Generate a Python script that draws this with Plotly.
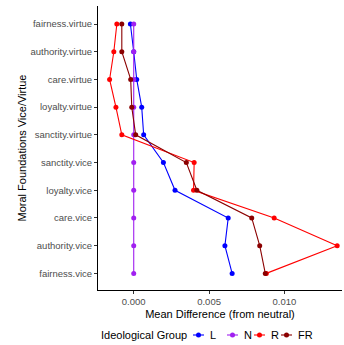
import plotly.graph_objects as go

categories = ["fairness.vice", "authority.vice", "care.vice", "loyalty.vice", "sanctity.vice",
              "sanctity.virtue", "loyalty.virtue", "care.virtue", "authority.virtue", "fairness.virtue"]

L_vals = [0.00653, 0.00605, 0.00627, 0.00274, 0.00197, 0.00066, 0.00053, 0.00020, 0.00000, -0.00022]
N_vals = [0.0, 0.0, 0.0, 0.0, 0.0, 0.0, 0.0, 0.0, 0.0, 0.0]
R_vals = [0.00880, 0.01350, 0.00932, 0.00397, 0.00401, -0.00079, -0.00118, -0.00160, -0.00132, -0.00112]
FR_vals = [0.00873, 0.00836, 0.00783, 0.00419, 0.00349, 0.00013, -0.00013, -0.00020, -0.00079, -0.00079]

group_names = ["L", "N", "R", "FR"]
group_colors = ["blue", "#A020F0", "red", "#8B0000"]
series_vals = [L_vals, N_vals, R_vals, FR_vals]

x_ticks = [0.0, 0.005, 0.01]
x_tick_labels = ["0.000", "0.005", "0.010"]

W, H = 344, 345
ML, MR, MT, MB = 98, 2, 6, 55
PW, PH = W - ML - MR, H - MT - MB


def px_x(p):
    return (p - ML) / PW


def px_y(p):
    return (H - MB - p) / PH


fig = go.Figure()
idx = list(range(len(categories)))
for name, vals, col in zip(group_names, series_vals, group_colors):
    fig.add_trace(go.Scatter(x=vals, y=idx, mode="lines+markers", name=name,
                             line=dict(color=col, width=1.1),
                             marker=dict(color=col, size=5), showlegend=False))

# manual compact legend (ggplot-style)
leg_y = px_y(335)
shapes = []
annotations = [dict(text="Ideological Group", x=px_x(99), y=leg_y, xref="paper", yref="paper",
                    xanchor="left", yanchor="middle", showarrow=False, font=dict(size=11, color="black"))]
key_starts = [193, 227, 254, 281]
for name, col, ks in zip(group_names, group_colors, key_starts):
    shapes.append(dict(type="line", xref="paper", yref="paper", x0=px_x(ks), x1=px_x(ks + 11),
                       y0=leg_y, y1=leg_y, line=dict(color=col, width=1.1)))
    cx = ks + 5.5
    shapes.append(dict(type="circle", xref="paper", yref="paper", x0=px_x(cx - 2.5), x1=px_x(cx + 2.5),
                       y0=leg_y - 2.5 / PH, y1=leg_y + 2.5 / PH, fillcolor=col, line=dict(color=col, width=0)))
    annotations.append(dict(text=name, x=px_x(ks + 15), y=leg_y, xref="paper", yref="paper",
                            xanchor="left", yanchor="middle", showarrow=False,
                            font=dict(size=11, color="black")))

font = "Liberation Sans, Arial, sans-serif"
fig.update_layout(
    width=W, height=H,
    margin=dict(l=ML, r=MR, t=MT, b=MB, autoexpand=False),
    plot_bgcolor="white", paper_bgcolor="white",
    font=dict(family=font, size=11, color="black"),
    xaxis=dict(range=[-0.00237, 0.01382], tickvals=x_ticks, ticktext=x_tick_labels,
               showgrid=False, zeroline=False, showline=True, linecolor="black", linewidth=1,
               ticks="outside", ticklen=3, tickcolor="#333333",
               tickfont=dict(size=9.5, color="#4d4d4d"),
               title=dict(text="Mean Difference (from neutral)", font=dict(size=11), standoff=3)),
    yaxis=dict(range=[-0.6, 9.65], tickvals=idx, ticktext=categories,
               showgrid=False, zeroline=False, showline=True, linecolor="black", linewidth=1,
               ticks="outside", ticklen=3, tickcolor="#333333",
               tickfont=dict(size=9.5, color="#4d4d4d"),
               title=dict(text="Moral Foundations Vice/Virtue", font=dict(size=11), standoff=1)),
    shapes=shapes,
    annotations=annotations,
    showlegend=False,
)

fig.write_html("out.html")
